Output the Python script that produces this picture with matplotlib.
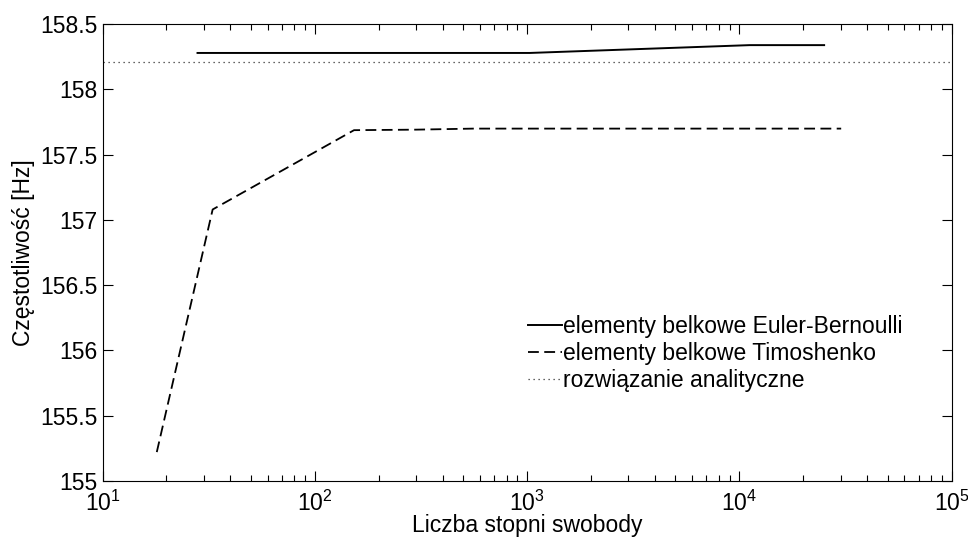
import matplotlib
matplotlib.use('Agg')
import matplotlib.pyplot as plt
from matplotlib.ticker import LogLocator, NullFormatter

plt.rcParams['font.family'] = ['Liberation Sans', 'DejaVu Sans']
plt.rcParams['mathtext.fontset'] = 'custom'
plt.rcParams['mathtext.rm'] = 'Liberation Sans'

# data
eb_dof = [28, 1030, 11200, 25100]
eb_freq = [158.28, 158.28, 158.34, 158.34]

timo_dof = [18, 33, 153, 300, 560, 1000, 30200]
timo_freq = [155.22, 157.08, 157.688, 157.692, 157.70, 157.70, 157.70]

analytic_freq = 158.21

y_ticks = [155, 155.5, 156, 156.5, 157, 157.5, 158, 158.5]
y_labels = ['155', '155.5', '156', '156.5', '157', '157.5', '158', '158.5']

fig = plt.figure(figsize=(9.68, 5.39), dpi=100)
ax = fig.add_axes([0.106, 0.108, 0.877, 0.847])

ax.plot(eb_dof, eb_freq, color='black', linewidth=1.4, linestyle='-',
        label='elementy belkowe Euler-Bernoulli')
ax.plot(timo_dof, timo_freq, color='black', linewidth=1.3, linestyle=(0, (6, 3)),
        label='elementy belkowe Timoshenko')
ax.axhline(analytic_freq, color='#333333', linewidth=0.9, linestyle=(0, (1, 3)),
           label='rozwiązanie analityczne')

ax.set_xscale('log')
ax.set_xlim(10, 1e5)
ax.set_ylim(155, 158.5)
ax.set_yticks(y_ticks)
ax.set_yticklabels(y_labels)
ax.xaxis.set_minor_locator(LogLocator(base=10, subs=range(2, 10)))
ax.xaxis.set_minor_formatter(NullFormatter())

ax.tick_params(which='both', direction='in', top=True, right=True, labelsize=16.5)
ax.tick_params(which='major', length=7, width=0.8)
ax.tick_params(which='minor', length=4, width=0.8)
ax.tick_params(axis='x', pad=7)
for s in ax.spines.values():
    s.set_linewidth(0.8)

ax.set_xlabel('Liczba stopni swobody', fontsize=16.5, labelpad=-1)
ax.set_ylabel('Częstotliwość [Hz]', fontsize=16.5, labelpad=4)

ax.legend(loc='upper left', bbox_to_anchor=(0.49, 0.383), frameon=False,
          fontsize=16.5, handlelength=1.5, handletextpad=0.05,
          labelspacing=0.18, borderaxespad=0)

fig.savefig('out.png', dpi=100)
